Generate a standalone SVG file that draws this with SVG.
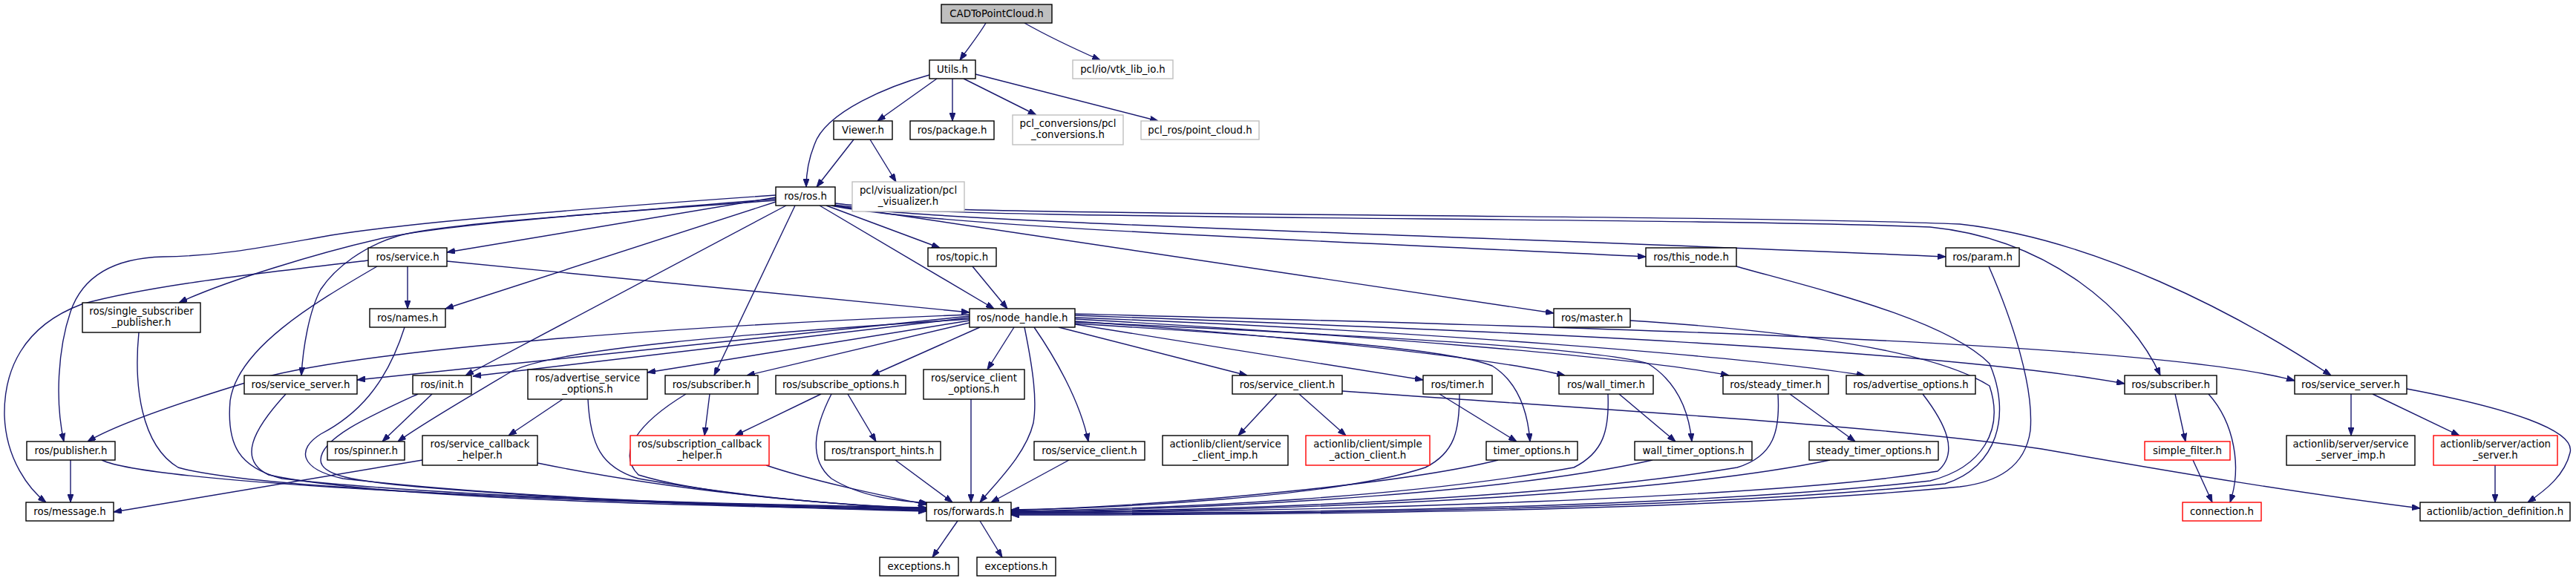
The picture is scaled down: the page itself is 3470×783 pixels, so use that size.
<svg xmlns="http://www.w3.org/2000/svg" width="3470" height="783" viewBox="0 0 3470 783">
<style>
.n rect{fill:#fff;stroke:#000;stroke-width:1.4}
.n.g rect{stroke:#bfbfbf}
.n.r rect{stroke:#ff0000}
.n.c rect{fill:#bfbfbf}
.n text{font-family:"DejaVu Sans",sans-serif;font-size:13.33px;text-anchor:middle;fill:#000}
#edges path{fill:none;stroke:#191970;stroke-width:1.4;marker-end:url(#a)}
</style>
<defs>
<marker id="a" markerWidth="11" markerHeight="8" refX="11" refY="4" orient="auto" markerUnits="userSpaceOnUse"><path d="M0,0 L11,4 L0,8 z" fill="#191970" stroke="#191970" stroke-width="1"/></marker>
</defs>
<rect width="3470" height="783" fill="#fff"/>
<g id="edges">
<path d="M1328,31 C1318,48 1304,65 1293,81"/>
<path d="M1380,31 C1410,48 1448,66 1482,81"/>
<path d="M1252,101 C1200,115 1112,150 1097,195 C1089,215 1086,235 1086,252"/>
<path d="M1262,106 L1182,163"/>
<path d="M1283,106 L1283,163"/>
<path d="M1298,106 L1396,155"/>
<path d="M1314,100 L1560,163"/>
<path d="M1150,188 L1100,252"/>
<path d="M1172,188 L1207,245"/>
<path d="M1045,266 L602,340"/>
<path d="M1113,277 L1266,334"/>
<path d="M1120,277 C1250,305 1800,325 2217,346"/>
<path d="M1122,277 C1250,300 2000,318 2621,346"/>
<path d="M1045,268 C850,285 620,300 520,320 C430,340 300,380 241,408"/>
<path d="M1045,263 C800,280 550,300 446,317 C360,332 300,345 220,346 C140,348 108,382 95,420 C78,470 74,540 86,595"/>
<path d="M1045,270 C850,285 600,300 536,318 C490,332 452,360 432,390 C416,420 408,470 406,506"/>
<path d="M1045,272 L600,416"/>
<path d="M1104,277 L1339,416"/>
<path d="M1123,277 L2093,422"/>
<path d="M1059,277 L627,506"/>
<path d="M1071,277 L962,506"/>
<path d="M1124,276 C1250,297 2250,292 2600,306 C2760,322 2872,420 2910,506"/>
<path d="M1125,274 C1250,292 2300,288 2640,302 C2820,322 3010,420 3140,506"/>
<path d="M549,359 L549,416"/>
<path d="M602,352 L1306,421"/>
<path d="M496,351 C350,368 200,385 110,410 C30,440 5,500 6,560 C8,620 40,660 62,677"/>
<path d="M508,359 C420,410 320,470 310,540 C305,600 322,630 380,645 C600,670 1000,680 1248,684"/>
<path d="M1310,359 L1357,416"/>
<path d="M545,441 C520,520 480,560 432,585 C400,605 402,632 462,645 C700,672 1000,682 1248,686"/>
<path d="M187,448 C180,520 190,600 240,630 C350,662 900,680 1248,685"/>
<path d="M95,620 L95,677"/>
<path d="M137,620 C200,650 700,675 1248,688"/>
<path d="M385,531 C340,580 320,620 362,640 C500,670 900,682 1248,687"/>
<path d="M582,531 L515,595"/>
<path d="M563,531 C500,560 432,590 432,620 C432,640 472,648 562,656 C800,676 1050,684 1248,689"/>
<path d="M1306,430 C1000,450 750,470 690,500 C640,530 570,570 536,595"/>
<path d="M1306,428 L637,507"/>
<path d="M1306,424 C900,440 500,470 350,510 C250,540 160,570 118,595"/>
<path d="M1306,426 L481,512"/>
<path d="M1306,432 L872,502"/>
<path d="M1306,435 L1006,506"/>
<path d="M1320,441 L1174,506"/>
<path d="M1366,441 L1330,498"/>
<path d="M1393,441 C1420,480 1455,540 1466,595"/>
<path d="M1380,441 C1392,500 1397,540 1392,570 C1382,612 1342,650 1320,677"/>
<path d="M1426,441 L1680,506"/>
<path d="M1448,437 L1917,512"/>
<path d="M1448,433 C1700,450 2000,480 2108,506"/>
<path d="M1448,430 C1800,450 2200,480 2329,506"/>
<path d="M1448,428 C1900,445 2350,480 2512,506"/>
<path d="M1448,425 C2000,445 2600,470 2862,517"/>
<path d="M1448,423 C2100,440 2900,460 3091,513"/>
<path d="M1448,436 C1750,455 1950,470 2010,493 C2045,515 2058,555 2061,595"/>
<path d="M1448,434 C1900,455 2150,470 2220,490 C2260,515 2275,555 2279,595"/>
<path d="M1720,531 L1668,587"/>
<path d="M1750,531 L1813,587"/>
<path d="M1808,527 C2200,555 2550,575 2750,605 C2950,640 3100,665 3260,685"/>
<path d="M1939,531 L2043,595"/>
<path d="M1966,531 C1966,580 1960,610 1920,630 C1800,670 1500,685 1362,687"/>
<path d="M2018,620 C1900,650 1600,680 1362,688"/>
<path d="M2181,531 L2257,595"/>
<path d="M2166,531 C2168,580 2160,610 2120,630 C1900,670 1600,685 1362,689"/>
<path d="M2226,620 C2050,660 1700,685 1362,690"/>
<path d="M2411,531 L2499,595"/>
<path d="M2395,531 C2398,580 2390,615 2340,630 C2100,670 1700,688 1362,690"/>
<path d="M2465,620 C2250,665 1800,688 1362,691"/>
<path d="M2590,531 C2620,570 2640,610 2610,635 C2400,670 1800,690 1362,691"/>
<path d="M2196,432 C2400,445 2600,470 2680,520 C2700,580 2670,630 2600,648 C2300,682 1800,692 1362,692"/>
<path d="M2339,359 C2450,390 2620,430 2680,490 C2710,560 2690,630 2620,652 C2300,685 1800,693 1362,693"/>
<path d="M2679,359 C2710,430 2740,520 2735,580 C2728,630 2690,650 2640,656 C2300,688 1800,694 1362,694"/>
<path d="M2930,531 L2944,595"/>
<path d="M2975,531 C3010,570 3020,630 3004,677"/>
<path d="M2954,620 L2980,677"/>
<path d="M3167,531 L3167,587"/>
<path d="M3196,531 L3313,587"/>
<path d="M3242,524 C3380,550 3470,580 3462,610 C3455,640 3430,660 3405,677"/>
<path d="M3361,627 L3361,677"/>
<path d="M758,538 L685,587"/>
<path d="M792,538 C795,600 810,630 860,645 C1000,670 1150,682 1248,686"/>
<path d="M956,531 L949,587"/>
<path d="M924,531 C860,570 830,610 860,640 C950,668 1150,682 1248,685"/>
<path d="M1106,531 L990,587"/>
<path d="M1142,531 L1180,595"/>
<path d="M1120,531 C1095,580 1090,620 1120,645 C1160,670 1210,675 1250,678"/>
<path d="M1308,538 L1308,677"/>
<path d="M1206,620 L1283,677"/>
<path d="M1440,620 L1335,677"/>
<path d="M569,620 L153,690"/>
<path d="M724,624 C900,660 1100,680 1248,685"/>
<path d="M1032,627 C1100,650 1200,670 1248,680"/>
<path d="M1290,702 L1256,751"/>
<path d="M1320,702 L1350,751"/>
</g>
<g id="cad" class="n c"><rect x="1268" y="6" width="149" height="25"/><text x="1342.5" y="23">CADToPointCloud.h</text></g>
<g id="utils" class="n"><rect x="1252" y="81" width="62" height="25"/><text x="1283" y="98">Utils.h</text></g>
<g id="vtk" class="n g"><rect x="1445" y="81" width="135" height="25"/><text x="1512.5" y="98">pcl/io/vtk_lib_io.h</text></g>
<g id="viewer" class="n"><rect x="1123" y="163" width="79" height="25"/><text x="1162.5" y="180">Viewer.h</text></g>
<g id="package" class="n"><rect x="1226" y="163" width="113" height="25"/><text x="1282.5" y="180">ros/package.h</text></g>
<g id="pclconv" class="n g"><rect x="1364" y="155" width="149" height="40"/><text x="1438.5" y="171">pcl_conversions/pcl</text><text x="1438.5" y="186">_conversions.h</text></g>
<g id="pclros" class="n g"><rect x="1537" y="163" width="159" height="25"/><text x="1616.5" y="180">pcl_ros/point_cloud.h</text></g>
<g id="ros" class="n"><rect x="1045" y="252" width="80" height="25"/><text x="1085" y="269">ros/ros.h</text></g>
<g id="pclvis" class="n g"><rect x="1148" y="245" width="151" height="40"/><text x="1223.5" y="261">pcl/visualization/pcl</text><text x="1223.5" y="276">_visualizer.h</text></g>
<g id="service" class="n"><rect x="496" y="334" width="106" height="25"/><text x="549" y="351">ros/service.h</text></g>
<g id="topic" class="n"><rect x="1250" y="334" width="92" height="25"/><text x="1296" y="351">ros/topic.h</text></g>
<g id="thisnode" class="n"><rect x="2217" y="334" width="122" height="25"/><text x="2278" y="351">ros/this_node.h</text></g>
<g id="param" class="n"><rect x="2621" y="334" width="99" height="25"/><text x="2670.5" y="351">ros/param.h</text></g>
<g id="ssp" class="n"><rect x="111" y="408" width="159" height="40"/><text x="190.5" y="424">ros/single_subscriber</text><text x="190.5" y="439">_publisher.h</text></g>
<g id="names" class="n"><rect x="498" y="416" width="102" height="25"/><text x="549" y="433">ros/names.h</text></g>
<g id="nodehandle" class="n"><rect x="1306" y="416" width="142" height="25"/><text x="1377" y="433">ros/node_handle.h</text></g>
<g id="master" class="n"><rect x="2093" y="416" width="103" height="25"/><text x="2144.5" y="433">ros/master.h</text></g>
<g id="ssL" class="n"><rect x="329" y="506" width="152" height="25"/><text x="405" y="523">ros/service_server.h</text></g>
<g id="init" class="n"><rect x="556" y="506" width="79" height="25"/><text x="595.5" y="523">ros/init.h</text></g>
<g id="aso" class="n"><rect x="711" y="498" width="161" height="40"/><text x="791.5" y="514">ros/advertise_service</text><text x="791.5" y="529">_options.h</text></g>
<g id="subL" class="n"><rect x="896" y="506" width="125" height="25"/><text x="958.5" y="523">ros/subscriber.h</text></g>
<g id="subopt" class="n"><rect x="1045" y="506" width="175" height="25"/><text x="1132.5" y="523">ros/subscribe_options.h</text></g>
<g id="sco" class="n"><rect x="1244" y="498" width="136" height="40"/><text x="1312" y="514">ros/service_client</text><text x="1312" y="529">_options.h</text></g>
<g id="scU" class="n"><rect x="1660" y="506" width="148" height="25"/><text x="1734" y="523">ros/service_client.h</text></g>
<g id="timer" class="n"><rect x="1917" y="506" width="93" height="25"/><text x="1963.5" y="523">ros/timer.h</text></g>
<g id="wtimer" class="n"><rect x="2100" y="506" width="127" height="25"/><text x="2163.5" y="523">ros/wall_timer.h</text></g>
<g id="stimer" class="n"><rect x="2321" y="506" width="142" height="25"/><text x="2392" y="523">ros/steady_timer.h</text></g>
<g id="advopt" class="n"><rect x="2487" y="506" width="174" height="25"/><text x="2574" y="523">ros/advertise_options.h</text></g>
<g id="subR" class="n"><rect x="2862" y="506" width="124" height="25"/><text x="2924" y="523">ros/subscriber.h</text></g>
<g id="ssR" class="n"><rect x="3091" y="506" width="151" height="25"/><text x="3166.5" y="523">ros/service_server.h</text></g>
<g id="pub" class="n"><rect x="36" y="595" width="119" height="25"/><text x="95.5" y="612">ros/publisher.h</text></g>
<g id="spin" class="n"><rect x="441" y="595" width="104" height="25"/><text x="493" y="612">ros/spinner.h</text></g>
<g id="sch" class="n"><rect x="569" y="587" width="155" height="40"/><text x="646.5" y="603">ros/service_callback</text><text x="646.5" y="618">_helper.h</text></g>
<g id="subcb" class="n r"><rect x="849" y="587" width="187" height="40"/><text x="942.5" y="603">ros/subscription_callback</text><text x="942.5" y="618">_helper.h</text></g>
<g id="th" class="n"><rect x="1111" y="595" width="156" height="25"/><text x="1189" y="612">ros/transport_hints.h</text></g>
<g id="scL" class="n"><rect x="1393" y="595" width="149" height="25"/><text x="1467.5" y="612">ros/service_client.h</text></g>
<g id="scimp" class="n"><rect x="1566" y="587" width="169" height="40"/><text x="1650.5" y="603">actionlib/client/service</text><text x="1650.5" y="618">_client_imp.h</text></g>
<g id="sac" class="n r"><rect x="1759" y="587" width="167" height="40"/><text x="1842.5" y="603">actionlib/client/simple</text><text x="1842.5" y="618">_action_client.h</text></g>
<g id="topt" class="n"><rect x="2002" y="595" width="123" height="25"/><text x="2063.5" y="612">timer_options.h</text></g>
<g id="wtopt" class="n"><rect x="2202" y="595" width="158" height="25"/><text x="2281" y="612">wall_timer_options.h</text></g>
<g id="stopt" class="n"><rect x="2437" y="595" width="174" height="25"/><text x="2524" y="612">steady_timer_options.h</text></g>
<g id="sf" class="n r"><rect x="2889" y="595" width="115" height="25"/><text x="2946.5" y="612">simple_filter.h</text></g>
<g id="ssimp" class="n"><rect x="3080" y="587" width="173" height="40"/><text x="3166.5" y="603">actionlib/server/service</text><text x="3166.5" y="618">_server_imp.h</text></g>
<g id="as" class="n r"><rect x="3278" y="587" width="167" height="40"/><text x="3361.5" y="603">actionlib/server/action</text><text x="3361.5" y="618">_server.h</text></g>
<g id="msg" class="n"><rect x="35" y="677" width="118" height="25"/><text x="94" y="694">ros/message.h</text></g>
<g id="fwd" class="n"><rect x="1248" y="677" width="114" height="25"/><text x="1305" y="694">ros/forwards.h</text></g>
<g id="conn" class="n r"><rect x="2940" y="677" width="106" height="25"/><text x="2993" y="694">connection.h</text></g>
<g id="adef" class="n"><rect x="3260" y="677" width="202" height="25"/><text x="3361" y="694">actionlib/action_definition.h</text></g>
<g id="exL" class="n"><rect x="1185" y="751" width="106" height="25"/><text x="1238" y="768">exceptions.h</text></g>
<g id="exR" class="n"><rect x="1316" y="751" width="106" height="25"/><text x="1369" y="768">exceptions.h</text></g>
</svg>
